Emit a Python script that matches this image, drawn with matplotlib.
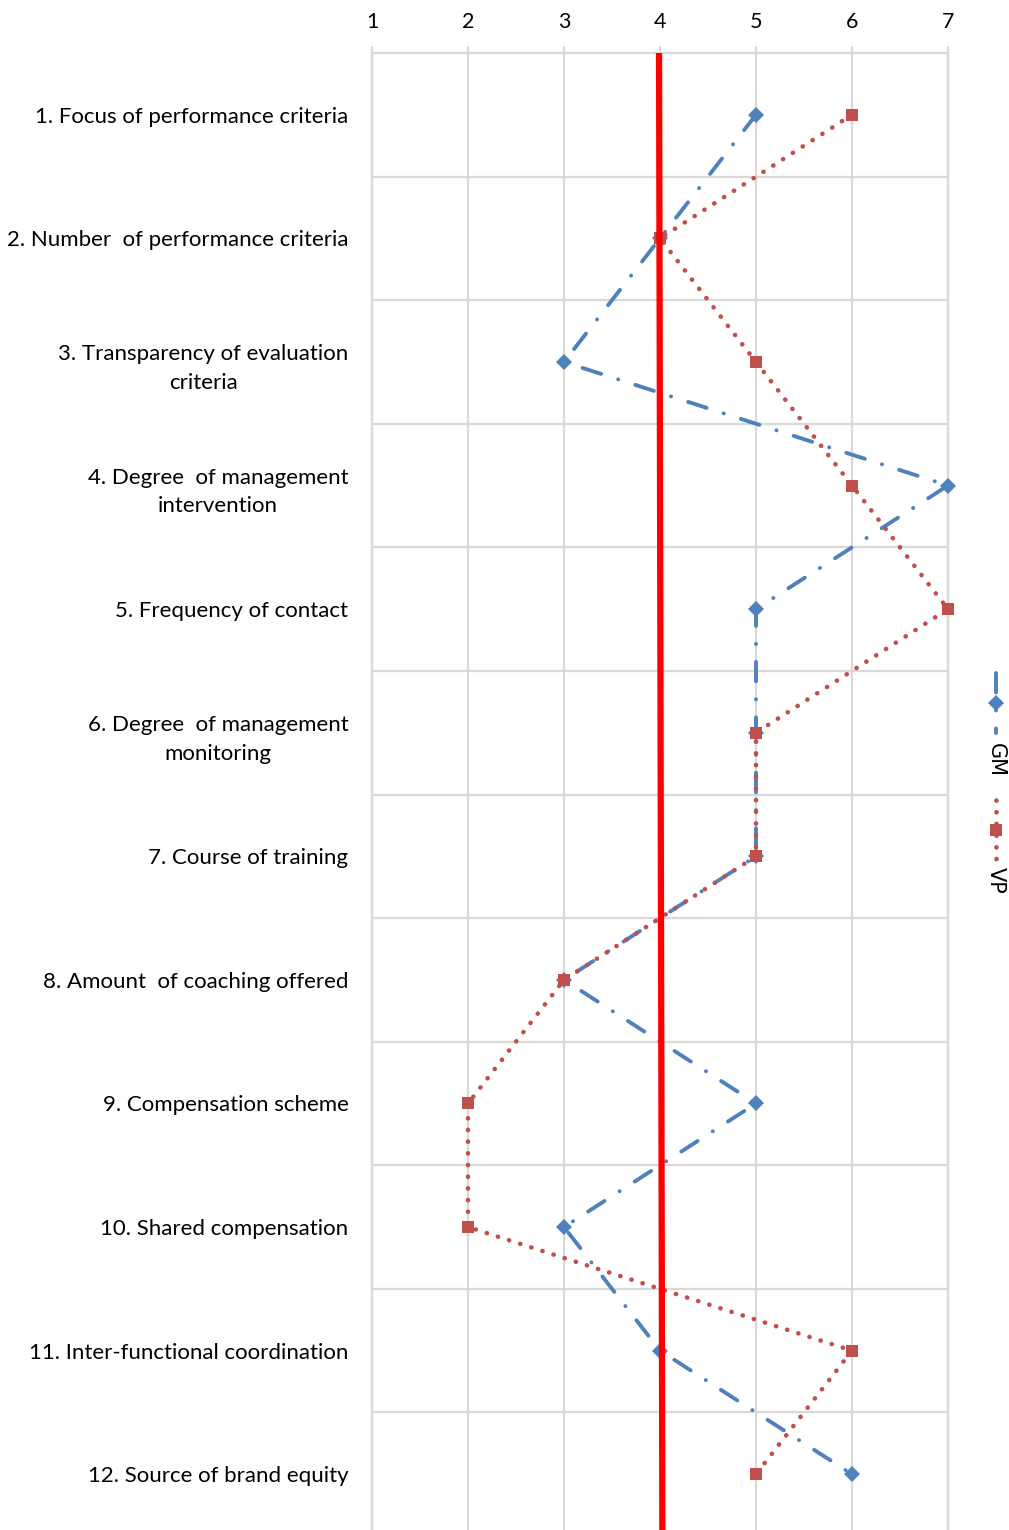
import matplotlib
matplotlib.use("Agg")
import matplotlib.pyplot as plt
from matplotlib.lines import Line2D

plt.rcParams['font.family'] = ['Lato', 'DejaVu Sans']

categories = [
    "1. Focus of performance criteria",
    "2. Number  of performance criteria",
    "3. Transparency of evaluation\ncriteria",
    "4. Degree  of management\nintervention",
    "5. Frequency of contact",
    "6. Degree  of management\nmonitoring",
    "7. Course of training",
    "8. Amount  of coaching offered",
    "9. Compensation scheme",
    "10. Shared compensation",
    "11. Inter-functional coordination",
    "12. Source of brand equity",
]
gm_values = [5, 4, 3, 7, 5, 5, 5, 3, 5, 3, 4, 6]
vp_values = [6, 4, 5, 6, 7, 5, 5, 3, 2, 2, 6, 5]
x_ticks = [1, 2, 3, 4, 5, 6, 7]
reference_value = 4

GM_COLOR = "#4F81BD"
VP_COLOR = "#C0504D"
GRID = "#D9D9D9"
GM_STYLE = (0, (5.0, 4.6, 0.05, 4.6))
VP_STYLE = (0, (0.05, 2.5))

W, H = 1009, 1530
fig = plt.figure(figsize=(W / 100, H / 100), dpi=100)
left, right = 372 / W, 948 / W
top = 1 - 53 / H
bottom = 1 - 1536 / H
ax = fig.add_axes([left, bottom, right - left, top - bottom])

ypos = list(range(len(categories)))
ax.set_xlim(1, 7)
ax.set_ylim(len(categories) - 0.5, -0.5)

# grid
ax.set_xticks(x_ticks)
ax.set_yticks(ypos)
ax.set_yticks([i + 0.5 for i in ypos[:-1]], minor=True)
ax.grid(True, axis='x', which='major', color=GRID, lw=1.6)
ax.grid(True, axis='y', which='minor', color=GRID, lw=1.6)
ax.grid(False, axis='y', which='major')
for s in ['left', 'right', 'top']:
    ax.spines[s].set_color(GRID)
    ax.spines[s].set_linewidth(1.6)
ax.spines['bottom'].set_visible(False)
ax.set_axisbelow(True)

ax.xaxis.tick_top()
ax.tick_params(axis='x', which='major', length=5, width=1.6, color=GRID,
               labelsize=15.5, pad=10, labelcolor='black')
ax.tick_params(axis='y', which='both', length=0, pad=17)
ax.set_yticklabels(categories, fontsize=16, multialignment='center',
                   linespacing=1.55)

# data lines
ax.plot(gm_values, ypos, color=GM_COLOR, lw=2.8,
        linestyle=GM_STYLE, dash_capstyle='round',
        marker='D', markersize=8, markeredgewidth=0, zorder=3, clip_on=False)
ax.plot(vp_values, ypos, color=VP_COLOR, lw=3.3,
        linestyle=VP_STYLE, dash_capstyle='round',
        marker='s', markersize=8.5, markeredgewidth=0, zorder=4, clip_on=False)

# reference line (slightly slanted as in original)
ax.plot([reference_value - 0.01, reference_value + 0.025],
        [-0.5, len(categories) - 0.5], color='#FF0000', lw=4.5,
        solid_capstyle='butt', zorder=5, clip_on=False)

# rotated legend on the right
def fy(py):
    return 1 - py / H

lx = 996 / W
fig.add_artist(Line2D([lx, lx, lx], [fy(673), fy(703), fy(733)],
                      transform=fig.transFigure, color=GM_COLOR, lw=2.8,
                      linestyle=GM_STYLE, dash_capstyle='round',
                      marker='D', markersize=8, markeredgewidth=0,
                      markevery=[1]))
fig.add_artist(Line2D([lx, lx, lx], [fy(800), fy(830), fy(860)],
                      transform=fig.transFigure, color=VP_COLOR, lw=3.3,
                      linestyle=VP_STYLE, dash_capstyle='round',
                      marker='s', markersize=8.5, markeredgewidth=0,
                      markevery=[1]))
fig.text(lx, fy(760), "GM", rotation=-90, ha='center', va='center',
         fontsize=15, family=['DejaVu Sans'])
fig.text(lx, fy(880), "VP", rotation=-90, ha='center', va='center',
         fontsize=15, family=['DejaVu Sans'])

fig.savefig("out.png", dpi=100)
